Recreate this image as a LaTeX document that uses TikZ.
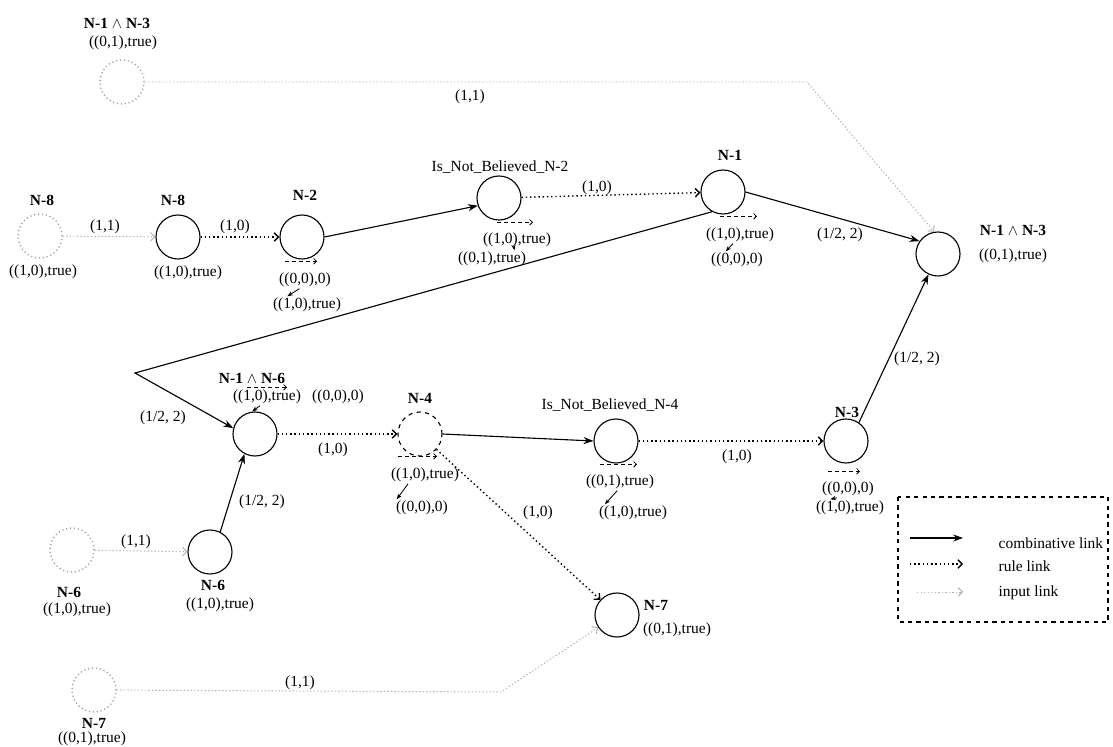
\documentclass[tikz,border=0pt]{standalone}
\usepackage{fontspec}
\setmainfont{Liberation Serif}
\usepackage{tikz}
\usetikzlibrary{arrows.meta}

\begin{document}
\begin{tikzpicture}[
x=0.025cm, y=-0.025cm,
every node/.style={font=\fontsize{11}{13}\selectfont, inner sep=1pt},
lbl/.style={font=\fontsize{11}{13}\selectfont\bfseries},
state/.style={circle, draw, line width=0.8pt, minimum size=1.1cm, inner sep=0pt},
hidden/.style={state, dashed},
source/.style={state, draw=gray!75, dash pattern=on 0.8pt off 2pt, line width=1pt},
combi/.style={-{Stealth[length=7pt,width=5pt]}, line width=0.8pt},
rulelink/.style={-{Straight Barb[length=3pt,width=6pt]}, dash pattern=on 1pt off 2pt, line width=1pt},
inputlink/.style={-{Straight Barb[length=3pt,width=6pt]}, dash pattern=on 1pt off 1.5pt, draw=gray!60, line width=0.7pt},
dashbar/.style={densely dashed, -{Straight Barb[length=2pt,width=4pt]}, line width=0.6pt},
hop/.style={-{Stealth[length=4pt,width=3pt]}, line width=0.6pt}
]
\useasboundingbox (0,0) rectangle (1113,747);
% Define the input nodes (dotted)
\node[source] (n13in) at (122,82) {};
\node[lbl] at (117,23) {N-1 $\wedge$ N-3};
\node at (123,43) {((0,1),true)};
\node[source] (n8in) at (40,236) {};
\node[lbl] at (42,200) {N-8};
\node at (43,272) {((1,0),true)};
\node[source] (n6in) at (72,550) {};
\node[lbl] at (69,592) {N-6};
\node at (77,610) {((1,0),true)};
\node[source] (n7in) at (94,690) {};
\node[lbl] at (94,723) {N-7};
\node at (92,739) {((0,1),true)};
% Define the upper row
\node[state] (n8) at (178,237) {};
\node[lbl] at (173,200) {N-8};
\node at (188,273) {((1,0),true)};
\node[state] (n2) at (302,237) {};
\node[lbl] at (305,195) {N-2};
\node (n2-a) at (305,280) {((0,0),0)};
\node (n2-b) at (307,305) {((1,0),true)};
\node[state] (nb2) at (499,198) {};
\node at (500,167) {Is\_Not\_Believed\_N-2};
\node (nb2-a) at (517,240) {((1,0),true)};
\node (nb2-b) at (492,259) {((0,1),true)};
\node[state] (n1) at (723,192) {};
\node[lbl] at (730,155) {N-1};
\node (n1-a) at (740,235) {((1,0),true)};
\node (n1-b) at (737,260) {((0,0),0)};
\node[state] (n13) at (938,254) {};
\node[lbl] at (1013,230) {N-1 $\wedge$ N-3};
\node at (1013,256) {((0,1),true)};
% Define the lower row
\node[state] (n16) at (255,434) {};
\node[lbl] at (252,378) {N-1 $\wedge$ N-6};
\node (n16-a) at (267,397) {((1,0),true)};
\node at (338,397) {((0,0),0)};
\node[hidden] (n4) at (420,434) {};
\node[lbl] at (420,398) {N-4};
\node (n4-a) at (425,475) {((1,0),true)};
\node (n4-b) at (422,508) {((0,0),0)};
\node[state] (nb4) at (616,441) {};
\node at (610,405) {Is\_Not\_Believed\_N-4};
\node (nb4-a) at (620,482) {((0,1),true)};
\node (nb4-b) at (633,513) {((1,0),true)};
\node[state] (n3) at (846,441) {};
\node[lbl] at (847,412) {N-3};
\node (n3-a) at (848,489) {((0,0),0)};
\node (n3-b) at (850,508) {((1,0),true)};
\node[state] (n6) at (210,552) {};
\node[lbl] at (213,585) {N-6};
\node at (220,605) {((1,0),true)};
\node[state] (n7) at (617,615) {};
\node[lbl] at (656,605) {N-7};
\node at (677,630) {((0,1),true)};
% Bends of the long links
\coordinate (top-bend) at (807,82);
\coordinate (low-bend) at (501,692);
\coordinate (left-bend) at (135,373);
% Input links
\draw[inputlink] (n13in) -- (top-bend) -- (n13.100);
\draw[inputlink] (n8in) -- (n8);
\draw[inputlink] (n6in) -- (n6);
\draw[inputlink] (n7in) -- (low-bend) -- (n7);
% Rule links
\draw[rulelink] (n8) -- (n2);
\draw[rulelink] (nb2) -- (n1);
\draw[rulelink] (n16) -- (n4);
\draw[rulelink] (nb4) -- (n3);
\draw[rulelink] (n4.317) -- (n7);
% Combinative links
\draw[combi] (n2.east) -- (nb2.200);
\draw[combi] (n1.east) -- (n13.145);
\draw[combi] (n1.241) -- (left-bend) -- (n16.165);
\draw[combi] (n6.63) -- (n16.242);
\draw[combi] (n4.east) -- (nb4.west);
\draw[combi] (n3.55) -- (n13.245);
% Link labels
\node at (470,97) {(1,1)};
\node at (105,227) {(1,1)};
\node at (235,227) {(1,0)};
\node at (597,188) {(1,0)};
\node at (840,235) {(1/2, 2)};
\node at (163,418) {(1/2, 2)};
\node at (333,450) {(1,0)};
\node at (262,502) {(1/2, 2)};
\node at (737,457) {(1,0)};
\node at (917,359) {(1/2, 2)};
\node at (538,513) {(1,0)};
\node at (136,542) {(1,1)};
\node at (300,683) {(1,1)};
% Value annotations
\draw[dashbar] ([shift={(-20,-10)}]n2-a.north) -- ([shift={(12,-10)}]n2-a.north);
\draw[hop] ([xshift=-4]n2-a.south) -- ([xshift=-14]n2-b.north);
\draw[dashbar] ([shift={(-20,-9)}]nb2-a.north) -- ([shift={(16,-9)}]nb2-a.north);
\draw[hop] ([xshift=-2]nb2-a.south) -- ([xshift=16]nb2-b.north);
\draw[dashbar] ([shift={(-20,-10)}]n1-a.north) -- ([shift={(17,-10)}]n1-a.north);
\draw[hop] ([xshift=-5]n1-a.south) -- ([xshift=-8]n1-b.north);
\draw[dashbar] ([shift={(-20,-1)}]n16-a.north) -- ([shift={(20,-1)}]n16-a.north);
\draw[hop] ([xshift=-5]n16-a.south) -- ([xshift=-2]n16.north);
\draw[dashbar] ([shift={(-27,-10)}]n4-a.north) -- ([shift={(12,-10)}]n4-a.north);
\draw[hop] ([xshift=-12]n4-a.south) -- ([xshift=-18]n4-b.north);
\draw[dashbar] ([shift={(-20,-9)}]nb4-a.north) -- ([shift={(17,-9)}]nb4-a.north);
\draw[hop] ([xshift=-2]nb4-a.south) -- ([xshift=-20]nb4-b.north);
\draw[dashbar] ([shift={(-20,-9)}]n3-a.north) -- ([shift={(12,-9)}]n3-a.north);
\draw[hop] ([xshift=-8]n3-a.south) -- ([xshift=-14]n3-b.north);
% Legend
\draw[dashed, line width=0.8pt] (898,497) rectangle (1108,622);
\node[anchor=west] (leg-comb) at (997,543) {combinative link};
\node[anchor=west] (leg-rule) at (997,566) {rule link};
\node[anchor=west] (leg-input) at (997,593) {input link};
\draw[combi] ([shift={(-87,-5)}]leg-comb.west) -- ([shift={(-34,-5)}]leg-comb.west);
\draw[rulelink] ([shift={(-87,-2)}]leg-rule.west) -- ([shift={(-34,-2)}]leg-rule.west);
\draw[inputlink] ([shift={(-80,-1)}]leg-input.west) -- ([shift={(-34,-1)}]leg-input.west);
\end{tikzpicture}
\end{document}
